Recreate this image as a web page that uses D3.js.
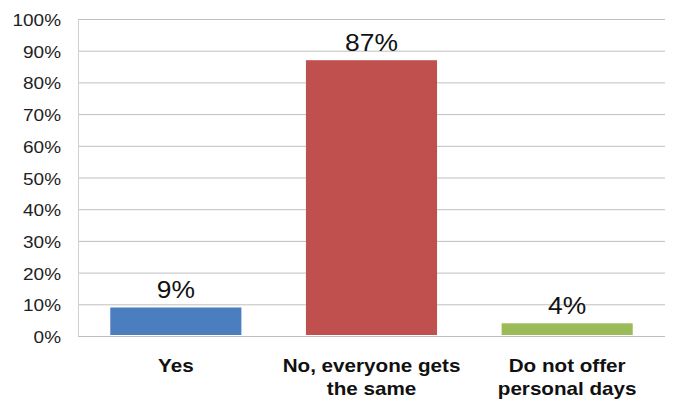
<!DOCTYPE html>
<html><head><meta charset="utf-8">
<script src="https://cdn.jsdelivr.net/npm/d3@7"></script>
<style>body{margin:0;background:#fff}svg{display:block}</style>
</head><body>
<svg id="c" width="681" height="400"></svg>
<script>
const categories = [["Yes"], ["No, everyone gets", "the same"], ["Do not offer", "personal days"]];
const values = [9, 87, 4];
const colors = ["#4a7ebf", "#c0504d", "#9bbb59"];
const tickValues = [0,10,20,30,40,50,60,70,80,90,100];

(function(){
const svg = d3.select("#c");
const FONT = "Liberation Sans, Arial, sans-serif";
const mLeft = 78, mRight = 665, mTop = 19, mBottom = 336;
const x = d3.scaleBand().domain(d3.range(values.length)).range([mLeft, mRight]).paddingInner(0.33).paddingOuter(0.165);
const y = d3.scaleLinear().domain([0,100]).range([mBottom, mTop]);

svg.append("g").selectAll("line").data(tickValues).join("line")
  .attr("x1", mLeft).attr("x2", mRight)
  .attr("y1", d=>y(d)+0.5).attr("y2", d=>y(d)+0.5)
  .attr("stroke", "#bfbfbf").attr("stroke-width", 1);
svg.append("line").attr("x1", mLeft+0.5).attr("x2", mLeft+0.5).attr("y1", mTop).attr("y2", mBottom)
  .attr("stroke", "#d0d0d0");

svg.append("g").selectAll("text").data(tickValues).join("text")
  .attr("transform", d=>`translate(61,${y(d)+7}) scale(1.15,1)`)
  .attr("text-anchor","end").attr("font-family",FONT)
  .attr("font-size", 16.5).attr("fill","#222").text(d=>d+"%");

svg.append("g").selectAll("rect").data(values).join("rect")
  .attr("x", (d,i)=>x(i)).attr("width", x.bandwidth())
  .attr("y", d=>y(d)).attr("height", d=>y(0)-y(d)-1)
  .attr("fill", (d,i)=>colors[i]);

svg.append("g").selectAll("text").data(values).join("text")
  .attr("transform", (d,i)=>`translate(${x(i)+x.bandwidth()/2},${y(d)-9}) scale(1.1,1)`)
  .attr("text-anchor","middle").attr("font-family",FONT)
  .attr("font-size", 24).attr("fill","#111").text(d=>d+"%");

const cl = svg.append("g").selectAll("text").data(categories).join("text")
  .attr("transform", (d,i)=>`translate(${x(i)+x.bandwidth()/2},0) scale(1.18,1)`)
  .attr("text-anchor","middle").attr("font-family",FONT)
  .attr("font-size", 17.5).attr("font-weight","bold").attr("fill","#111");
cl.each(function(lines, i){
  const t = d3.select(this);
  lines.forEach((l, j) => t.append("tspan").attr("x", 0).attr("y", 372 + j*23).text(l));
});
})();
</script>
</body></html>
